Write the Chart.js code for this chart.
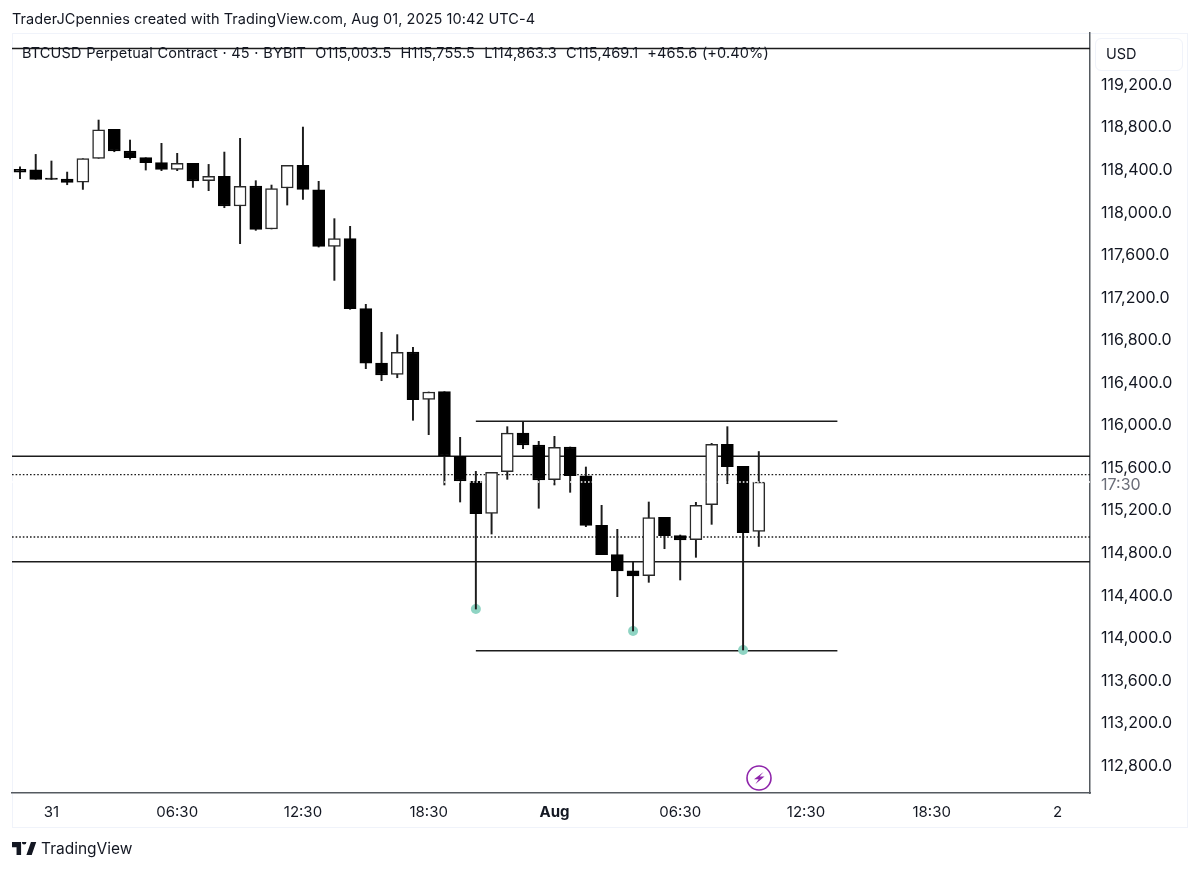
<!DOCTYPE html>
<html>
<head>
<meta charset="utf-8">
<script src="https://cdn.jsdelivr.net/npm/chart.js@4/dist/chart.umd.min.js"></script>
<style>
html,body{margin:0;padding:0;background:#fff;width:1200px;height:870px;overflow:hidden;font-family:Inter,"Liberation Sans",Arial,sans-serif;color:#131722}
#panel{position:absolute;left:12px;top:33px;width:1174px;height:793px;border:1px solid #f0f3fa;box-sizing:content-box}
canvas{position:absolute;left:0;top:0}
.t{position:absolute;white-space:nowrap;line-height:1}
#usd{position:absolute;left:1095px;top:38px;width:86px;height:31px;border:1px solid #f0f3fa;border-radius:6px;box-sizing:content-box}
</style>
</head>
<body>
<div id="panel"></div>
<div id="usd"></div>
<canvas id="c" width="1200" height="870" style="width:1200px;height:870px"></canvas>
<div class="t" style="left:12px;top:12px;font-size:14.5px;letter-spacing:.055px">TraderJCpennies created with TradingView.com, Aug 01, 2025 10:42 UTC-4</div>
<div class="t" style="left:22px;top:46px;font-size:14.5px;letter-spacing:.13px;word-spacing:.4px">BTCUSD Perpetual Contract · 45 · BYBIT&nbsp;&nbsp;O115,003.5&nbsp;&nbsp;H115,755.5&nbsp;&nbsp;L114,863.3&nbsp;&nbsp;C115,469.1&nbsp;&nbsp;+465.6 (+0.40%)</div>
<div class="t" style="left:1106px;top:47px;font-size:14.5px">USD</div>
<div class="t" style="left:1101px;top:476px;font-size:16px;color:#6a6d78">17:30</div>
<div class="t" style="left:41px;top:841px;font-size:15.5px">TradingView</div>
<svg style="position:absolute;left:12px;top:842px" width="25" height="13" viewBox="2 6 33 15" preserveAspectRatio="none"><path fill="#131722" d="M14 6H2v6h6v9h6V6Zm14 15h-7l6-15h7l-6 15Zm-7-15a3 3 0 1 1-6 0 3 3 0 0 1 6 0Z"/></svg>
<svg style="position:absolute;left:745px;top:763.5px" width="28" height="28" viewBox="0 0 28 28"><circle cx="14" cy="14" r="12" fill="none" stroke="#8e24aa" stroke-width="1.6"/><path fill="#8e24aa" d="M18.5 8 9 15.2h4.6L10.5 20 19.5 12.6h-4.8L18.5 8Z"/></svg>
<script>
const opens = [118407,118404,118326,118317,118288,118511,118783,118580,118517,118470,118407,118464,118301,118342,118063,118251,117847,118232,118445,118216,117684,117756,117098,116587,116481,116691,116246,116318,115710,115475,115174,115566,115929,115817,115491,115798,115528,115062,114786,114633,114589,115137,114965,114927,115256,115823,115616,115003.5];
const closes = [118382,118313,118313,118285,118508,118780,118580,118517,118470,118407,118464,118298,118342,118063,118248,117844,118226,118445,118219,117684,117756,117098,116587,116475,116687,116243,116315,115713,115478,115171,115560,115929,115817,115488,115795,115528,115062,114786,114633,114586,115134,114965,114924,115250,115823,115613,114993,115469.1];
const highs = [118432,118548,118486,118382,118508,118871,118783,118683,118517,118652,118558,118464,118454,118570,118699,118301,118260,118445,118805,118295,117944,117872,117139,116876,116854,116735,116315,116318,115889,115569,115560,115989,116039,115851,115898,115798,115610,115250,115024,114717,115281,115137,114971,115278,115832,115989,115616,115755.5];
const lows = [118320,118313,118313,118263,118219,118511,118573,118504,118401,118395,118395,118238,118207,118047,117709,117834,117847,118072,118125,117677,117364,117092,116534,116421,116449,116049,115914,115441,115281,114275,114980,115494,115782,115222,115441,115372,115049,114786,114391,114069,114526,114842,114548,114761,115071,115453,113890,114863.3];

const priceTicks = [112800,113200,113600,114000,114400,114800,115200,115600,116000,116400,116800,117200,117600,118000,118400,118800,119200];
const timeTickIndexes = [2,10,18,26,34,42,50,58,66];
const timeTickLabels = ["31","06:30","12:30","18:30","Aug","06:30","12:30","18:30","2"];

const fullLevels = [119543,115711,114720];
const dottedLevels = [115538,114952];
const lastPrice = 115469.1;
const boxLevels = [116039,113884];
const boxStart = 29, boxEnd = 52;
const markerIndexes = [29,39,46];
const markerPrices = [114275,114069,113890];

const xMin = -0.509, xMax = 68.07, yMin = 112546, yMax = 119689;
const ink = "#1c1c1c";

function hline(level, x0, x1, dash, color){
  return {type:"line",data:[{x:x0,y:level},{x:x1,y:level}],borderColor:color||ink,borderWidth:dash?1.3:1.5,borderDash:dash||[],pointRadius:0,fill:false,tension:0};
}
const datasets = [];
datasets.push(hline(lastPrice,xMin,xMax,[1.6,2],"#ffffff"));
datasets.push({type:"bar",grouped:false,data:opens.map((o,i)=>({x:i,y:[o,closes[i]]})),barThickness:12,
  backgroundColor:opens.map((o,i)=>closes[i]>o?"#ffffff":"#000000"),
  borderColor:opens.map((o,i)=>closes[i]>o?"#2a2a2a":"#000000"),
  borderWidth:1.5,borderSkipped:false});
datasets.push({type:"bar",grouped:false,data:highs.map((h,i)=>({x:i,y:[lows[i],h]})),barThickness:1.3,backgroundColor:ink,borderWidth:0});
datasets.push({type:"line",data:markerIndexes.map((x,i)=>({x,y:markerPrices[i]})),showLine:false,pointRadius:5,pointBackgroundColor:"#8fd4c3",pointBorderWidth:0});
boxLevels.forEach(l=>datasets.push(hline(l,boxStart,boxEnd)));
fullLevels.forEach(l=>datasets.push(hline(l,xMin,xMax)));
dottedLevels.forEach(l=>datasets.push(hline(l,xMin,xMax,[1.6,2])));

new Chart(document.getElementById("c"),{
  type:"bar",
  data:{datasets},
  options:{
    responsive:false,animation:false,devicePixelRatio:1,
    layout:{padding:{left:12,top:33,right:13,bottom:43}},
    plugins:{legend:{display:false},title:{display:false},tooltip:{enabled:false}},
    scales:{
      x:{type:"linear",offset:false,min:xMin,max:xMax,stacked:false,
        grid:{display:false,drawTicks:false},
        border:{display:true,color:"#555a60",width:1.5},
        afterBuildTicks:s=>{s.ticks=timeTickIndexes.map(v=>({value:v}));},
        afterFit:s=>{s.height=34;},
        ticks:{autoSkip:false,maxRotation:0,padding:10,color:"#131722",
          font:c=>({family:"Inter",size:15,weight:timeTickLabels[c.index]==="Aug"?"bold":"normal"}),
          callback:(v,i)=>timeTickLabels[i]}},
      y:{type:"linear",position:"right",min:yMin,max:yMax,
        grid:{display:false,drawTicks:false},
        border:{display:true,color:"#555a60",width:1.5},
        afterBuildTicks:s=>{s.ticks=priceTicks.map(v=>({value:v}));},
        afterFit:s=>{s.width=97;},
        ticks:{autoSkip:false,padding:11,color:"#131722",font:{family:"Inter",size:16},
          callback:v=>v.toLocaleString("en-US",{minimumFractionDigits:1,maximumFractionDigits:1})}}
    }
  }
});
</script>
</body>
</html>
